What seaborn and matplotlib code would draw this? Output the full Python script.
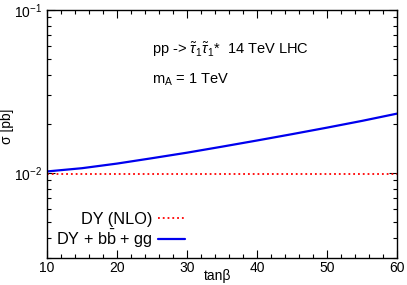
import pandas as pd
import matplotlib
matplotlib.use("Agg")
import matplotlib.pyplot as plt
import matplotlib.ticker as mticker
import seaborn as sns

# values
tanb = [10, 15, 20, 25, 30, 35, 40, 45, 50, 55, 60]
sigma_dy = [0.00979, 0.00979, 0.00979, 0.00979, 0.00979, 0.00979, 0.00979, 0.00979, 0.00979, 0.00979, 0.00979]
sigma_all = [0.01020, 0.01068, 0.01140, 0.01230, 0.01330, 0.01448, 0.01580, 0.01728, 0.01895, 0.02085, 0.02310]

df = pd.DataFrame({'tanb': tanb, 'dy': sigma_dy, 'all': sigma_all})

sns.set_style('ticks')
plt.rcParams['font.family'] = ['Liberation Sans', 'DejaVu Sans']
plt.rcParams['mathtext.fontset'] = 'custom'
plt.rcParams['mathtext.rm'] = 'Liberation Sans'
plt.rcParams['mathtext.it'] = 'Liberation Sans:italic'
plt.rcParams['text.color'] = 'black'
plt.rcParams['axes.labelcolor'] = 'black'

fig = plt.figure(figsize=(4.07, 2.85), dpi=100)
ax = fig.add_axes([47/407, 27/285, 350/407, 248/285])

sns.lineplot(data=df, x='tanb', y='dy', ax=ax, color='red', linestyle=':', linewidth=1.3, label='DY (NLO)')
sns.lineplot(data=df, x='tanb', y='all', ax=ax, color='#0000ee', linewidth=1.6, label=r'DY + b$\bar{\rm b}$ + gg')

ax.set_yscale('log')
ax.set_xlim(10, 60)
ax.set_ylim(3e-3, 1e-1)
ax.xaxis.set_major_locator(mticker.MultipleLocator(10))
ax.xaxis.set_minor_locator(mticker.MultipleLocator(2))
ax.yaxis.set_major_locator(mticker.LogLocator(base=10, numticks=10))
ax.yaxis.set_minor_locator(mticker.LogLocator(base=10, subs=range(2, 10), numticks=20))
ax.yaxis.set_minor_formatter(mticker.NullFormatter())
ax.tick_params(which='both', direction='in', top=True, right=True, labelsize=10, colors='black')
ax.tick_params(which='major', length=6, width=0.8)
ax.tick_params(which='minor', length=3, width=0.8)
ax.tick_params(axis='x', which='major', pad=2)
for s in ax.spines.values():
    s.set_color('black')
    s.set_linewidth(1.0)

ax.set_xlabel('tanβ', fontsize=10)
ax.set_ylabel('σ [pb]', fontsize=10)
ax.xaxis.set_label_coords(0.486, -0.045)
ax.yaxis.set_label_coords(-0.095, 0.53)

ax.text(0.30, 0.839, r'pp -> $\tilde{\tau}_1\tilde{\tau}_1$*  14 TeV LHC', transform=ax.transAxes,
        fontsize=10.5, va='center')
ax.text(0.30, 0.718, r'm$_{\rm A}$ = 1 TeV', transform=ax.transAxes, fontsize=10.5, va='center')

ax.legend(loc='lower right', bbox_to_anchor=(0.436, -0.025), frameon=False, markerfirst=False,
          fontsize=11.7, handlelength=1.65, handletextpad=0.35, labelspacing=0.05)

fig.savefig('out.png', dpi=100)
